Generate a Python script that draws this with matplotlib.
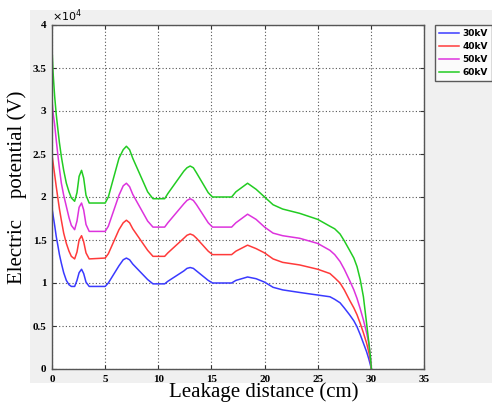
import matplotlib
matplotlib.use("Agg")
import matplotlib.pyplot as plt
from matplotlib.patches import Rectangle

# Leakage distance (cm) shared by all series
distance = [0, 0.1, 0.25, 0.4, 0.56, 0.7, 0.88, 1.1, 1.35, 1.6, 1.82, 2.13,
            2.35, 2.55, 2.78, 2.98, 3.2, 3.5,
            5.0, 5.3, 6.3, 6.7, 7.0, 7.3, 7.6,
            9.0, 9.5, 10.6, 10.9, 12.4, 12.7, 13.0, 13.3, 13.6,
            14.7, 15.1, 16.9, 17.3, 18.4, 19.2, 20.0, 20.8, 21.7, 23.3, 25.0,
            26.15, 26.6, 27.1, 27.5, 28.0, 28.4, 28.7, 29.0, 29.3, 29.6, 29.8, 29.95, 30.05]

# Electric potential in units of 1e4 V
v30 = [1.87, 1.79, 1.67, 1.54, 1.43, 1.33, 1.23, 1.12, 1.03, 0.98, 0.96, 0.96,
       1.03, 1.12, 1.16, 1.11, 1.01, 0.96,
       0.96, 1.00, 1.20, 1.27, 1.29, 1.27, 1.22,
       1.04, 0.99, 0.99, 1.02, 1.14, 1.17, 1.18, 1.17, 1.14,
       1.03, 1.00, 1.00, 1.03, 1.07, 1.05, 1.01, 0.95, 0.92, 0.89, 0.86,
       0.84, 0.81, 0.77, 0.71, 0.63, 0.56, 0.49, 0.40, 0.30, 0.20, 0.12, 0.05, 0.0]
v40 = [2.49, 2.40, 2.26, 2.12, 1.98, 1.86, 1.73, 1.58, 1.46, 1.37, 1.31, 1.28,
       1.36, 1.50, 1.55, 1.48, 1.35, 1.28,
       1.29, 1.34, 1.62, 1.70, 1.73, 1.70, 1.63,
       1.38, 1.31, 1.31, 1.35, 1.52, 1.555, 1.57, 1.555, 1.52,
       1.37, 1.33, 1.33, 1.37, 1.44, 1.40, 1.35, 1.28, 1.24, 1.21, 1.16,
       1.11, 1.06, 1.00, 0.92, 0.80, 0.71, 0.63, 0.53, 0.42, 0.30, 0.20, 0.10, 0.0]
v50 = [3.13, 2.98, 2.84, 2.66, 2.48, 2.33, 2.16, 2.02, 1.89, 1.76, 1.67, 1.62,
       1.72, 1.88, 1.93, 1.85, 1.68, 1.60,
       1.60, 1.66, 2.02, 2.13, 2.16, 2.12, 2.03,
       1.72, 1.65, 1.65, 1.70, 1.92, 1.96, 1.98, 1.96, 1.91,
       1.70, 1.65, 1.65, 1.70, 1.80, 1.74, 1.65, 1.58, 1.55, 1.52, 1.46,
       1.38, 1.33, 1.25, 1.16, 1.03, 0.92, 0.82, 0.70, 0.57, 0.42, 0.30, 0.15, 0.0]
v60 = [3.73, 3.45, 3.17, 2.96, 2.78, 2.63, 2.47, 2.31, 2.16, 2.06, 1.99, 1.95,
       2.05, 2.24, 2.31, 2.22, 2.02, 1.93,
       1.93, 2.00, 2.45, 2.55, 2.59, 2.55, 2.45,
       2.06, 1.98, 1.98, 2.04, 2.30, 2.34, 2.36, 2.34, 2.28,
       2.05, 2.00, 2.00, 2.06, 2.16, 2.09, 2.00, 1.91, 1.86, 1.81, 1.74,
       1.66, 1.63, 1.57, 1.49, 1.38, 1.29, 1.19, 1.04, 0.84, 0.53, 0.32, 0.15, 0.0]

labels = ["30kV", "40kV", "50kV", "60kV"]
colors = ["#3a3aff", "#ff3a3a", "#dd33dd", "#22cc22"]
xticks = [0, 5, 10, 15, 20, 25, 30, 35]
yticks = [0, 0.5, 1, 1.5, 2, 2.5, 3, 3.5, 4]

W, H = 492, 403
fig = plt.figure(figsize=(W / 100, H / 100), dpi=100)
fig.patch.set_facecolor("white")
fig.add_artist(Rectangle((30 / W, 1 - 383 / H), 1 - 30 / W, 373 / H,
                         transform=fig.transFigure, facecolor="#f0f0f0",
                         edgecolor="none", zorder=0))

ax = fig.add_axes([52 / W, 1 - 369 / H, 372 / W, 344 / H])
ax.set_facecolor("white")

tickfont = {"family": "Liberation Serif", "weight": "bold", "size": 8}
for vals, lab, col in zip([v30, v40, v50, v60], labels, colors):
    ax.plot(distance, vals, color=col, lw=1.1, label=lab, solid_joinstyle="round")

ax.set_xlim(0, 35)
ax.set_ylim(0, 4)
ax.set_xticks(xticks)
ax.set_yticks(yticks)
ax.set_xticklabels([f"{t:g}" for t in xticks], fontdict=tickfont)
ax.set_yticklabels([f"{t:g}" for t in yticks], fontdict=tickfont)
ax.tick_params(direction="in", length=3, top=True, right=True, color="#333333", pad=4)
ax.grid(True, linestyle=(0, (1, 2)), color="#555555", lw=0.8)
for s in ax.spines.values():
    s.set_color("#555555")
    s.set_linewidth(1.0)

ax.text(0.0, 1.003, r"$\times10^{4}$", transform=ax.transAxes, fontsize=8,
        family="Liberation Serif", ha="left", va="bottom")

fig.text(264 / W, 1 - 402 / H, "Leakage distance (cm)", family="Liberation Serif",
         fontsize=15, ha="center", va="bottom")
fig.text(17 / W, 1 - 187 / H, "Electric    potential (V)", family="Liberation Serif",
         fontsize=15, ha="center", va="center", rotation=90)

leg = fig.legend(loc="upper left", bbox_to_anchor=(435 / W, 1 - 25 / H),
                 prop={"family": "DejaVu Sans", "weight": "bold", "size": 6.5},
                 frameon=True, fancybox=False, handlelength=2.2, borderpad=0.45,
                 labelspacing=0.45, handletextpad=0.35, borderaxespad=0)
leg.get_frame().set_edgecolor("#333333")
leg.get_frame().set_linewidth(1.0)

fig.savefig("out.png", dpi=100, facecolor="white")
